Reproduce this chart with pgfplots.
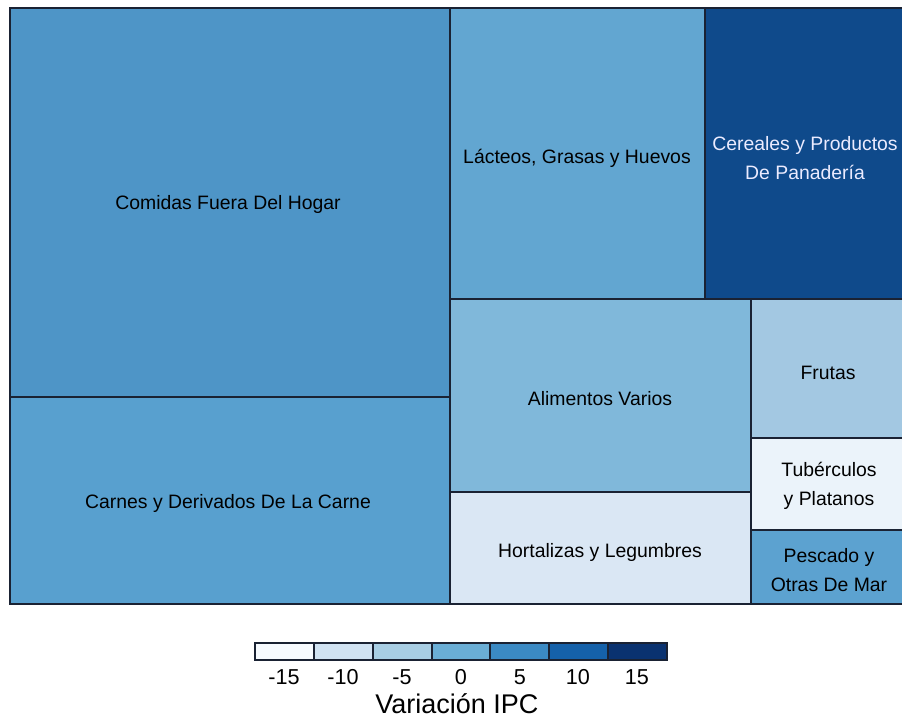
\documentclass[border=0pt]{standalone}
\usepackage{pgfplots}
\pgfplotsset{compat=1.18}
\usepackage{fontspec}
\setmainfont{Liberation Sans}

% tile colours (Blues palette, by IPC variation)
\definecolor{cComidas}{HTML}{4E95C7}
\definecolor{cCarnes}{HTML}{58A0CF}
\definecolor{cLacteos}{HTML}{62A6D1}
\definecolor{cCereales}{HTML}{0F4A8B}
\definecolor{cAlimentos}{HTML}{80B8DA}
\definecolor{cHortalizas}{HTML}{DAE7F4}
\definecolor{cFrutas}{HTML}{A3C8E2}
\definecolor{cTuberculos}{HTML}{EBF3FA}
\definecolor{cPescado}{HTML}{5CA2D0}
\definecolor{edge}{HTML}{1A2233}
% legend boxes
\definecolor{b1}{HTML}{F7FBFF}
\definecolor{b2}{HTML}{D0E2F2}
\definecolor{b3}{HTML}{A8CEE4}
\definecolor{b4}{HTML}{6AAED6}
\definecolor{b5}{HTML}{3B8AC4}
\definecolor{b6}{HTML}{1561AA}
\definecolor{b7}{HTML}{0A3270}

\tikzset{
  tile/.style={draw=edge, line width=0.8pt},
  key/.style={draw=edge, line width=0.6pt},
  lbl/.style={font=\fontsize{9.7}{11}\selectfont, align=center},
}

\begin{document}
\begin{tikzpicture}
\begin{axis}[
    scale only axis,
    width=451pt, height=359.5pt,
    xmin=0, xmax=902, ymin=0, ymax=719,
    y dir=reverse,
    hide axis,
    clip=true,
  ]
\path (axis cs:0,0) rectangle (axis cs:902,719);

% treemap tiles: (x1,y1) (x2,y1) (x2,y2) (x1,y2)
\addplot[tile, fill=cComidas] coordinates {(10,8) (450,8) (450,397) (10,397)} -- cycle;
\addplot[tile, fill=cCarnes] coordinates {(10,397) (450,397) (450,604) (10,604)} -- cycle;
\addplot[tile, fill=cLacteos] coordinates {(450,8) (705,8) (705,299) (450,299)} -- cycle;
\addplot[tile, fill=cCereales] coordinates {(705,8) (906,8) (906,299) (705,299)} -- cycle;
\addplot[tile, fill=cAlimentos] coordinates {(450,299) (751,299) (751,492) (450,492)} -- cycle;
\addplot[tile, fill=cHortalizas] coordinates {(450,492) (751,492) (751,604) (450,604)} -- cycle;
\addplot[tile, fill=cFrutas] coordinates {(751,299) (906,299) (906,438) (751,438)} -- cycle;
\addplot[tile, fill=cTuberculos] coordinates {(751,438) (906,438) (906,530) (751,530)} -- cycle;
\addplot[tile, fill=cPescado] coordinates {(751,530) (906,530) (906,604) (751,604)} -- cycle;

\node[lbl] at (axis cs:228,204) {Comidas Fuera Del Hogar};
\node[lbl] at (axis cs:228,503) {Carnes y Derivados De La Carne};
\node[lbl] at (axis cs:577,158) {Lácteos, Grasas y Huevos};
\node[lbl, text=white!92!blue] at (axis cs:805,158) {Cereales y Productos\\[3.5pt]De Panadería};
\node[lbl] at (axis cs:600,399) {Alimentos Varios};
\node[lbl] at (axis cs:600,552) {Hortalizas y Legumbres};
\node[lbl] at (axis cs:828,373) {Frutas};
\node[lbl] at (axis cs:829,486) {Tubérculos\\[3.5pt]y Platanos};
\node[lbl] at (axis cs:829,570) {Pescado y\\[3.5pt]Otras De Mar};

% colour key
\addplot[key, fill=b1] coordinates {(255,643) (314,643) (314,660) (255,660)} -- cycle;
\addplot[key, fill=b2] coordinates {(314,643) (373,643) (373,660) (314,660)} -- cycle;
\addplot[key, fill=b3] coordinates {(373,643) (432,643) (432,660) (373,660)} -- cycle;
\addplot[key, fill=b4] coordinates {(432,643) (490,643) (490,660) (432,660)} -- cycle;
\addplot[key, fill=b5] coordinates {(490,643) (549,643) (549,660) (490,660)} -- cycle;
\addplot[key, fill=b6] coordinates {(549,643) (608,643) (608,660) (549,660)} -- cycle;
\addplot[key, fill=b7] coordinates {(608,643) (667,643) (667,660) (608,660)} -- cycle;

\foreach \v/\x in {-15/284,-10/343,-5/402,0/461,5/520,10/578,15/637}{
  \edef\tmp{\noexpand\node[font=\noexpand\fontsize{10.8}{12}\noexpand\selectfont] at (axis cs:\x,677) {\v};}\tmp
}
\node[font=\fontsize{13.5}{15}\selectfont] at (axis cs:457,704) {Variación IPC};
\end{axis}
\end{tikzpicture}
\end{document}
